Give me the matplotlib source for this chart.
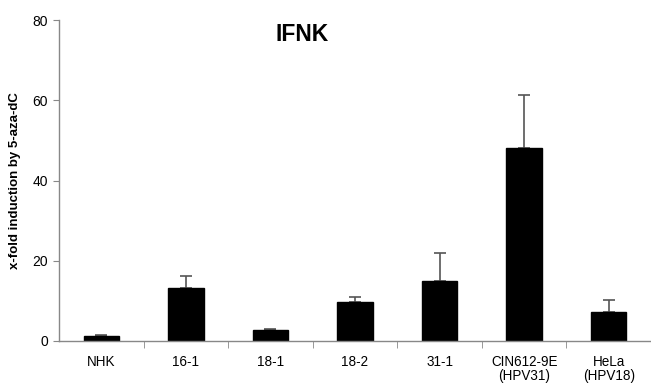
import matplotlib
matplotlib.use("Agg")
import matplotlib.pyplot as plt
import numpy as np

plt.rcParams['font.family'] = ['Liberation Sans', 'DejaVu Sans']

# data
labels = ['NHK', '16-1', '18-1', '18-2', '31-1', 'CIN612-9E\n(HPV31)', 'HeLa\n(HPV18)']
values = [1.2, 13.1, 2.8, 9.6, 15.0, 48.0, 7.3]
errors = [0.3, 3.0, 0.3, 1.4, 7.0, 13.4, 2.9]
yticks = [0, 20, 40, 60, 80]

fig = plt.figure(figsize=(6.51, 3.85), dpi=100)
ax = fig.add_axes([0.0906, 0.1143, 0.9094, 0.8337])

x = np.arange(len(labels))
ax.bar(x, values, width=0.42, color='black', edgecolor='black', zorder=2)
ax.errorbar(x, values, yerr=[np.zeros(len(errors)), errors], fmt='none',
            ecolor='#555555', elinewidth=1.2, capsize=4, capthick=1.2, zorder=1)

ax.set_xlim(-0.5, len(labels) - 0.5)
ax.set_ylim(0, 80)
ax.set_yticks(yticks)
ax.set_xticks(x)
ax.set_xticklabels(labels, fontsize=9.75, linespacing=1.0)
ax.set_xticks(np.arange(0.5, len(labels) - 0.5, 1), minor=True)
ax.tick_params(axis='x', which='major', length=0, pad=10)
ax.tick_params(axis='x', which='minor', length=5, color='#888888', direction='out')
ax.tick_params(axis='y', length=4, color='#888888', labelsize=10, pad=4)

for s in ['top', 'right']:
    ax.spines[s].set_visible(False)
for s in ['left', 'bottom']:
    ax.spines[s].set_color('#888888')
    ax.spines[s].set_linewidth(1)

ax.set_ylabel('x-fold induction by 5-aza-dC', fontsize=9.5, fontweight='bold', labelpad=8)
ax.text(2.37, 76.3, 'IFNK', fontsize=16.5, fontweight='bold', ha='center', va='center')

fig.savefig('out.png', dpi=100)
